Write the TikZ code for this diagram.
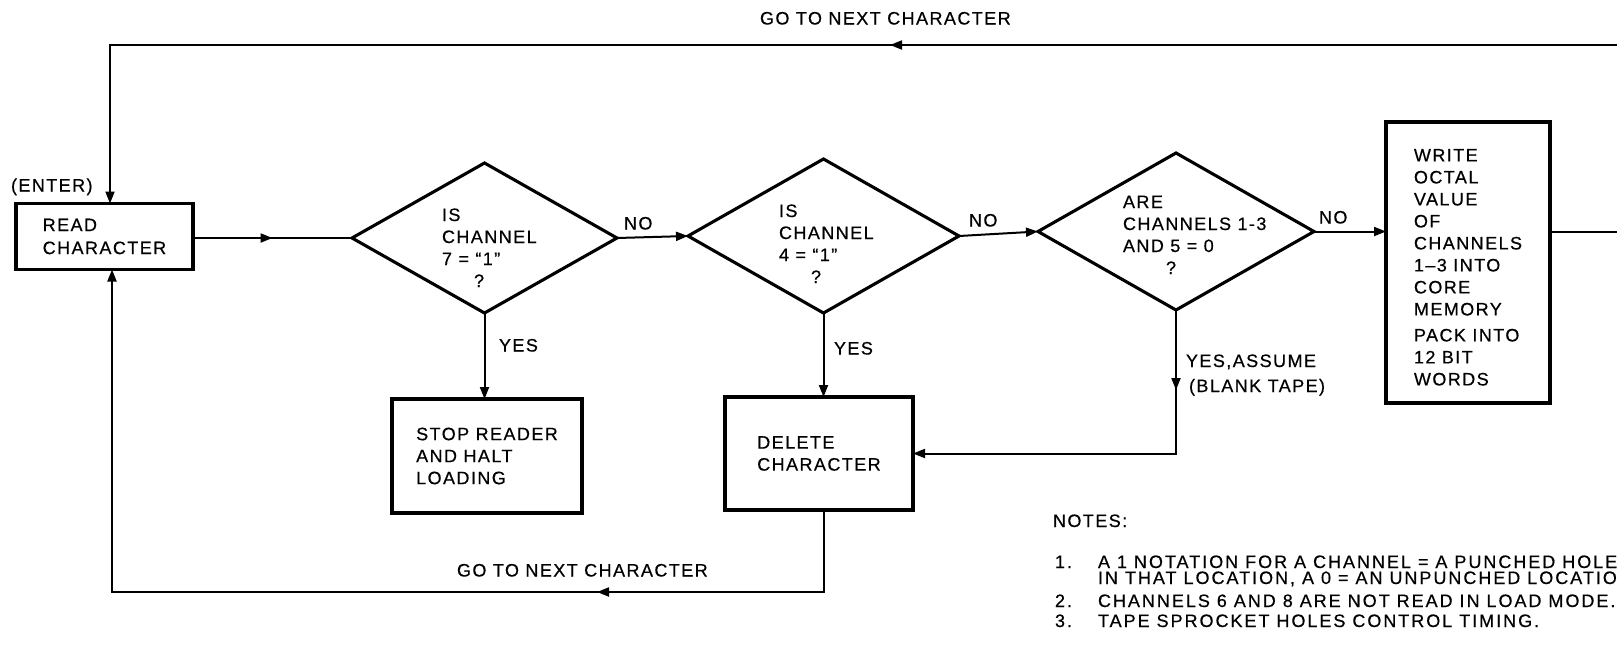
\documentclass[tikz,border=0pt]{standalone}
\usepackage{fontspec}
\setmainfont[LetterSpace=8,FakeBold=0.5]{Liberation Sans}
\usetikzlibrary{shapes.geometric,arrows.meta,decorations.markings}
\newcommand\dfont{\fontsize{18}{22}\selectfont}
\newcommand\nfont{\fontsize{18}{16}\selectfont\addfontfeatures{LetterSpace=11}}
\begin{document}
\begin{tikzpicture}[x=1pt,y=-1pt,
  every node/.style={font=\dfont,inner sep=0pt,outer sep=0pt},
  procbox/.style={draw,line width=3.1pt,align=left},
  decision/.style={draw,diamond,line width=3.1pt,inner sep=0pt},
  conn/.style={line width=2pt},
  tip/.style={-{Triangle[length=12pt,width=9pt]}},
  midtip/.style={postaction={decorate},decoration={markings,mark=at position #1 with {\arrow{Triangle[length=12pt,width=9pt]}}}},
  lbl/.style={anchor=base west,align=left},
  notelbl/.style={anchor=base west,align=left,font=\nfont}]
\fill[white] (0,0) rectangle (1617,659);
\useasboundingbox (0,0) rectangle (1617,659);
\clip (0,0) rectangle (1617,659);

% nodes
\node[procbox,minimum width=177pt,minimum height=66pt] (read) at (104.5,236.5) {READ\\[1pt]CHARACTER};
\node[decision,minimum width=265pt,minimum height=150pt] (d1) at (484.5,238) {};
\node[decision,minimum width=271pt,minimum height=154pt] (d2) at (823.5,236) {};
\node[decision,minimum width=276pt,minimum height=157pt] (d3) at (1176,231.5) {};
\node[lbl] (d1t) at (442,287) {IS\\CHANNEL\\7 = “1”\\\hspace*{32pt}?};
\node[lbl] (d2t) at (779,283) {IS\\CHANNEL\\4 = “1”\\\hspace*{32pt}?};
\node[lbl] (d3t) at (1123,274) {ARE\\CHANNELS 1-3\\AND 5 = 0\\\hspace*{43pt}?};
\node[procbox,minimum width=190pt,minimum height=114pt] (stop) at (487,456) {STOP READER\\AND HALT\\LOADING};
\node[procbox,minimum width=188pt,minimum height=113pt] (del) at (819,453.5) {DELETE\\CHARACTER};
\node[procbox,minimum width=164pt,minimum height=281pt] (write) at (1468,262.5) {\rule{0pt}{22pt}WRITE\\OCTAL\\VALUE\\OF\\CHANNELS\\1–3 INTO\\CORE\\MEMORY\\[4pt]PACK INTO\\12 BIT\\WORDS};

% connectors
\draw[conn,midtip=0.5] (read.east |- d1.west) -- (d1.west);
\draw[conn,tip] (d1.east) -- (d2.west);
\node[lbl] (no1) at (624,229.5) {NO};
\draw[conn,tip] (d2.east) -- (d3.west);
\node[lbl] (no2) at (969,226.5) {NO};
\draw[conn,tip] (d3.east) -- (d3.east -| write.west);
\node[lbl] (no3) at (1319,223.5) {NO};
\coordinate (wout) at (1630,232);
\draw[conn] (write.east |- wout) -- (wout);

\coordinate (topR) at (1630,45);
\coordinate (topL) at (110,45);
\draw[conn,tip,midtip=740pt] (topR) -- (topL) -- (topL |- read.north);
\node[lbl] (go1) at (760,24.5) {GO TO NEXT CHARACTER};
\node[lbl] (enter) at (11,191.5) {(ENTER)};

\draw[conn,tip] (d1.south) -- (d1.south |- stop.north);
\node[lbl] (yes1) at (499,351.5) {YES};
\draw[conn,tip] (d2.south) -- (d2.south |- del.north);
\node[lbl] (yes2) at (834,354.5) {YES};
\draw[conn,tip,midtip=80pt] (d3.south) -- (d3.south |- del.east) -- (del.east);
\node[lbl] (yes3) at (1186,392) {YES,ASSUME\\[3pt]\hspace*{3pt}(BLANK TAPE)};

\coordinate (bR) at (824,592);
\coordinate (bL) at (112,592);
\draw[conn,tip,midtip=309pt] (del.south -| bR) -- (bR) -- (bL) -- (bL |- read.south);
\node[lbl] (go2) at (457,576.5) {GO TO NEXT CHARACTER};

% notes
\node[lbl] (notes) at (1053,527) {NOTES:};
\node[notelbl] (n1) at (1055,568) {1.};
\node[notelbl] (n1t) at (1098,584) {A 1 NOTATION FOR A CHANNEL = A PUNCHED HOLE\\IN THAT LOCATION, A 0 = AN UNPUNCHED LOCATION};
\node[notelbl] (n2) at (1055,607) {2.};
\node[notelbl] (n2t) at (1098,607) {CHANNELS 6 AND 8 ARE NOT READ IN LOAD MODE.};
\node[notelbl] (n3) at (1055,627) {3.};
\node[notelbl] (n3t) at (1098,627) {TAPE SPROCKET HOLES CONTROL TIMING.};
\end{tikzpicture}
\end{document}
